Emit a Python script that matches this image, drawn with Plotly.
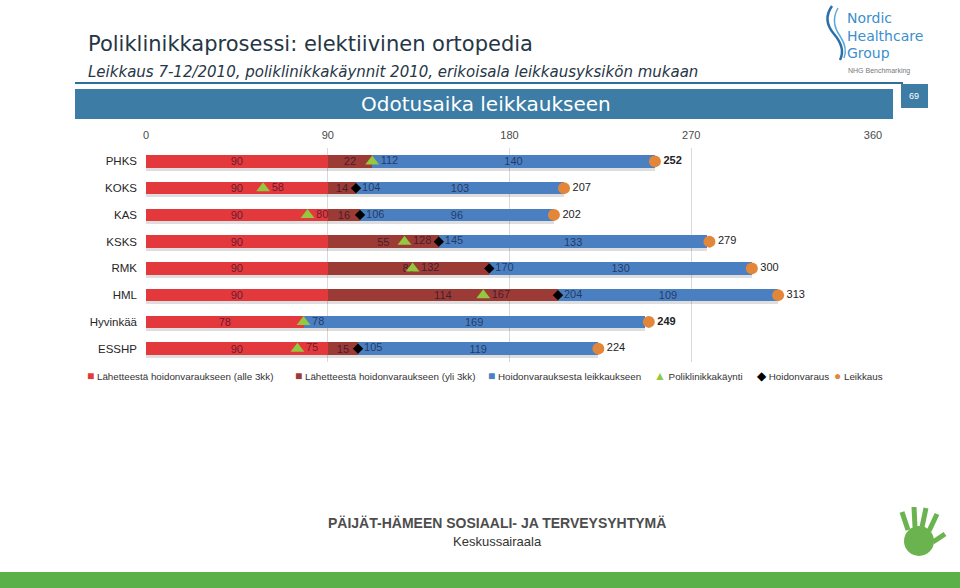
import plotly.graph_objects as go

# ---------------- data ----------------
units = ["PHKS", "KOKS", "KAS", "KSKS", "RMK", "HML", "Hyvinkää", "ESSHP"]
under_3kk = [90, 90, 90, 90, 90, 90, 78, 90]            # Lähetteestä hoidonvaraukseen (alle 3kk)
over_3kk = [22, 14, 16, 55, 80, 114, None, 15]          # Lähetteestä hoidonvaraukseen (yli 3kk)
booking_to_surgery = [140, 103, 96, 133, 130, 109, 169, 119]  # Hoidonvarauksesta leikkaukseen
clinic_visit = [112, 58, 80, 128, 132, 167, 78, 75]     # Poliklinikkakäynti
booking = [None, 104, 106, 145, 170, 204, None, 105]    # Hoidonvaraus
surgery = [252, 207, 202, 279, 300, 313, 249, 224]      # Leikkaus
highlight = ["PHKS", "Hyvinkää"]
x_ticks = [0, 90, 180, 270, 360]

# ---------------- style ----------------
C_RED = "#e3393c"
C_DRED = "#9c3a36"
C_BLUE = "#4a7fc1"
C_GREEN = "#93c83f"
C_ORANGE = "#e2873a"
C_HEAD = "#3c7ca5"
FONT = "Liberation Sans, Arial, sans-serif"
LBL = "rgba(10,10,40,0.62)"

W, H = 960, 588
L, R, T, B = 146, 873, 148, 362


def px(x):
    return (x - L) / (R - L)


def py(y):
    return (B - y) / (B - T)


n = len(units)
totals = [a + (b or 0) + c for a, b, c in zip(under_3kk, over_3kk, booking_to_surgery)]

fig = go.Figure()

# shadow under bars (on the base y axis, shifted a few px down)
fig.add_trace(go.Bar(
    y=units, x=totals, orientation="h", width=0.47,
    marker=dict(color="rgba(0,0,0,0.13)", line=dict(width=0)),
    xaxis="x", yaxis="y", hoverinfo="skip", showlegend=False,
))

for vals, col in [(under_3kk, C_RED), (over_3kk, C_DRED), (booking_to_surgery, C_BLUE)]:
    fig.add_trace(go.Bar(
        y=units, x=vals, orientation="h", width=0.47,
        marker=dict(color=col, line=dict(width=0)),
        text=[("" if v is None else str(v)) for v in vals],
        textposition="inside", insidetextanchor="middle", textangle=0,
        constraintext="none",
        textfont=dict(family=FONT, size=11, color=LBL),
        xaxis="x", yaxis="y2", showlegend=False,
    ))

fig.add_trace(go.Scatter(
    y=units, x=clinic_visit, mode="markers+text",
    marker=dict(symbol="triangle-up", size=12, color=C_GREEN),
    text=[str(v) for v in clinic_visit], textposition="middle right",
    textfont=dict(family=FONT, size=11, color=LBL),
    xaxis="x", yaxis="y2", showlegend=False,
))
fig.add_trace(go.Scatter(
    y=units, x=booking, mode="markers+text",
    marker=dict(symbol="diamond", size=8, color="#000000"),
    text=[("" if v is None else str(v)) for v in booking], textposition="middle right",
    textfont=dict(family=FONT, size=11, color=LBL),
    xaxis="x", yaxis="y2", showlegend=False,
))
fig.add_trace(go.Scatter(
    y=units, x=surgery, mode="markers+text",
    marker=dict(symbol="circle", size=12, color=C_ORANGE),
    text=[(f"<b>{v}</b>" if u in highlight else str(v)) for u, v in zip(units, surgery)],
    textposition="middle right",
    textfont=dict(family=FONT, size=11, color="#222222"),
    xaxis="x", yaxis="y2", showlegend=False,
))

d = 3 / ((B - T) / n)

annotations = []
shapes = []

# header
annotations.append(dict(x=px(86), y=py(44), xref="paper", yref="paper", xanchor="left", yanchor="middle",
                        text="Poliklinikkaprosessi: elektiivinen ortopedia", showarrow=False,
                        font=dict(family="DejaVu Sans", size=21, color="#263645")))
annotations.append(dict(x=px(86), y=py(72), xref="paper", yref="paper", xanchor="left", yanchor="middle",
                        text="<i>Leikkaus 7-12/2010, poliklinikkakäynnit 2010, erikoisala leikkausyksikön mukaan</i>",
                        showarrow=False, font=dict(family="DejaVu Sans", size=15, color="#263645")))
shapes.append(dict(type="line", xref="paper", yref="paper", x0=px(75), x1=px(903), y0=py(83), y1=py(83),
                   line=dict(color="#2f6f95", width=2)))
shapes.append(dict(type="rect", xref="paper", yref="paper", x0=px(75), x1=px(893), y0=py(119), y1=py(89),
                   fillcolor=C_HEAD, line=dict(width=0)))
shapes.append(dict(type="rect", xref="paper", yref="paper", x0=px(901), x1=px(928), y0=py(108), y1=py(84),
                   fillcolor=C_HEAD, line=dict(width=0)))
annotations.append(dict(x=px(486), y=py(104), xref="paper", yref="paper", xanchor="center", yanchor="middle",
                        text="Odotusaika leikkaukseen", showarrow=False,
                        font=dict(family="DejaVu Sans", size=20, color="white")))
annotations.append(dict(x=px(914), y=py(96), xref="paper", yref="paper", xanchor="center", yanchor="middle",
                        text="69", showarrow=False, font=dict(family=FONT, size=9, color="white")))

# logo
for txt, yy in [("Nordic", 18), ("Healthcare", 36), ("Group", 53)]:
    annotations.append(dict(x=px(845), y=py(yy), xref="paper", yref="paper", xanchor="left", yanchor="middle",
                            text=txt, showarrow=False, font=dict(family="DejaVu Sans", size=14, color="#3b8fcc")))
annotations.append(dict(x=px(846), y=py(71), xref="paper", yref="paper", xanchor="left", yanchor="middle",
                        text="NHG Benchmarking", showarrow=False, font=dict(family=FONT, size=7, color="#777777")))


def path(pts):
    s = "M %f,%f" % (px(pts[0][0]), py(pts[0][1]))
    for i in range(1, len(pts) - 1, 2):
        s += " Q %f,%f %f,%f" % (px(pts[i][0]), py(pts[i][1]), px(pts[i + 1][0]), py(pts[i + 1][1]))
    return s


shapes.append(dict(type="path", xref="paper", yref="paper", path=path([(832, 6), (822, 20), (834, 34), (846, 48), (840, 60)]),
                   line=dict(color="#2b6ea8", width=2.5)))
shapes.append(dict(type="path", xref="paper", yref="paper", path=path([(838, 8), (830, 22), (840, 36), (848, 48), (844, 58)]),
                   line=dict(color="#5aa9dd", width=1.5)))

# legend (built as text)
legend_items = [
    (85, C_RED, "■", "Lähetteestä hoidonvaraukseen (alle 3kk)"),
    (293, C_DRED, "■", "Lähetteestä hoidonvaraukseen (yli 3kk)"),
    (486, C_BLUE, "■", "Hoidonvarauksesta leikkaukseen"),
    (652, C_GREEN, "▲", "Poliklinikkakäynti"),
    (755, "#000000", "◆", "Hoidonvaraus"),
    (832, C_ORANGE, "●", "Leikkaus"),
]
for xx, col, sym, txt in legend_items:
    annotations.append(dict(x=px(xx), y=py(376), xref="paper", yref="paper", xanchor="left", yanchor="middle",
                            text=f'<span style="color:{col};font-size:12px">{sym}</span> {txt}', showarrow=False,
                            font=dict(family=FONT, size=9.8, color="#333333")))

# footer
annotations.append(dict(x=px(497), y=py(523), xref="paper", yref="paper", xanchor="center", yanchor="middle",
                        text="<b>PÄIJÄT-HÄMEEN SOSIAALI- JA TERVEYSYHTYMÄ</b>", showarrow=False,
                        font=dict(family=FONT, size=14, color="#4d4d4d")))
annotations.append(dict(x=px(497), y=py(541), xref="paper", yref="paper", xanchor="center", yanchor="middle",
                        text="Keskussairaala", showarrow=False, font=dict(family=FONT, size=13, color="#333333")))
shapes.append(dict(type="rect", xref="paper", yref="paper", x0=px(0), x1=px(960), y0=py(588), y1=py(572),
                   fillcolor="#5cb04a", line=dict(width=0)))
# hand logo (rough)
shapes.append(dict(type="circle", xref="paper", yref="paper", x0=px(904), x1=px(934), y0=py(556), y1=py(526),
                   fillcolor="#6ab34f", line=dict(width=0)))
for (x0, y0, x1, y1) in [(908, 530, 902, 512), (915, 527, 914, 507), (922, 527, 926, 508), (929, 531, 937, 514), (933, 542, 945, 534)]:
    shapes.append(dict(type="line", xref="paper", yref="paper", x0=px(x0), y0=py(y0), x1=px(x1), y1=py(y1),
                       line=dict(color="#6ab34f", width=5)))

fig.update_layout(
    width=W, height=H,
    margin=dict(l=L, r=W - R, t=T, b=H - B, pad=0),
    paper_bgcolor="white", plot_bgcolor="white",
    barmode="stack",
    showlegend=False,
    font=dict(family=FONT, size=11, color="#333333"),
    xaxis=dict(range=[0, 360], side="top", tickvals=x_ticks, showgrid=True, gridcolor="#d9d9d9", gridwidth=1,
               zeroline=False, showline=False, ticks="", ticklabelstandoff=6,
               tickfont=dict(size=11, color="#4a4a4a"), fixedrange=True),
    yaxis=dict(type="category", categoryorder="array", categoryarray=units,
               range=[n - 0.5 - d, -0.5 - d], showticklabels=False, showgrid=False, zeroline=False,
               showline=False, ticks=""),
    yaxis2=dict(type="category", categoryorder="array", categoryarray=units, overlaying="y", side="left",
                range=[n - 0.5, -0.5], showgrid=False, zeroline=False, showline=False, ticks="",
                ticklabelstandoff=8, tickfont=dict(size=11.5, color="#262626")),
    annotations=annotations,
    shapes=shapes,
)

fig.write_html("out.html", config={"displayModeBar": False},
               post_script="document.body.style.margin='0';document.body.style.overflow='hidden';")
